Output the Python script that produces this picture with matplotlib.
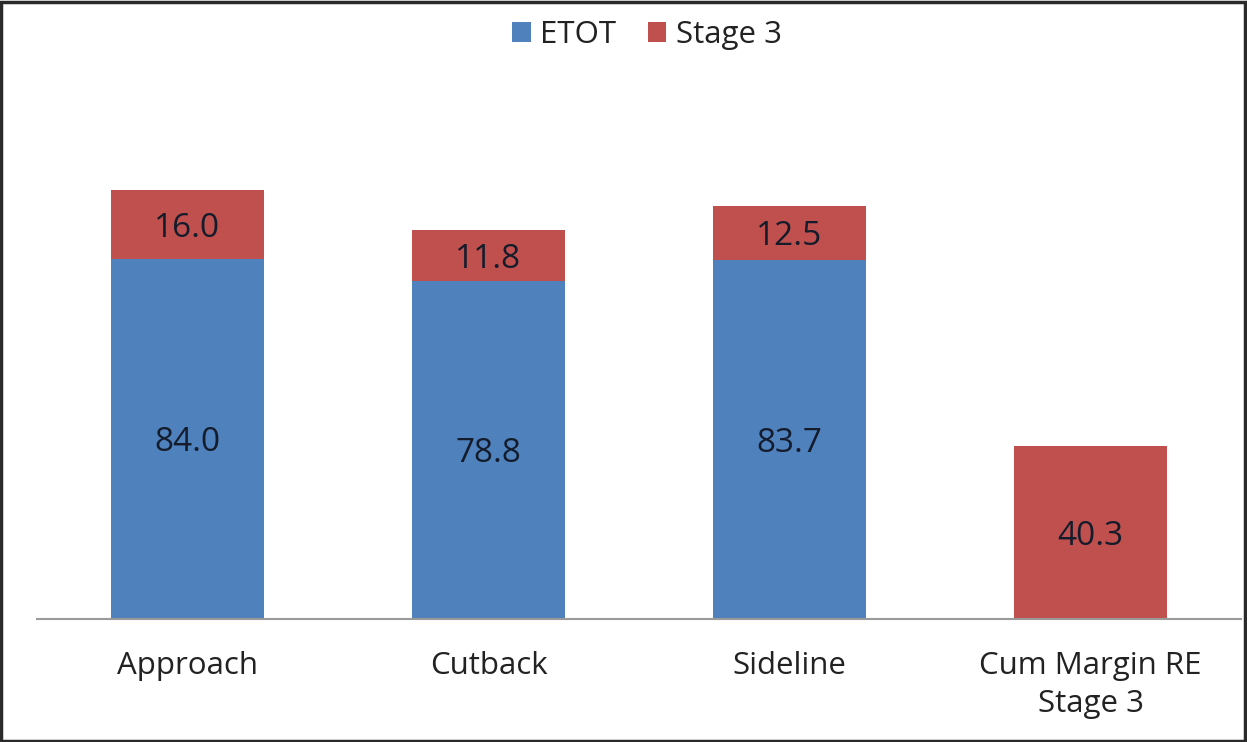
import matplotlib.pyplot as plt
from matplotlib.patches import Rectangle
import numpy as np

categories = ['Approach', 'Cutback', 'Sideline', 'Cum Margin RE\nStage 3']
etot = [84.0, 78.8, 83.7, 0.0]
stage3 = [16.0, 11.8, 12.5, 40.3]

BLUE = '#4F81BD'
RED = '#C0504D'

plt.rcParams['font.family'] = ['Open Sans', 'DejaVu Sans']

fig = plt.figure(figsize=(12.47, 7.42), dpi=100)
ax = fig.add_axes([37 / 1247, 1 - 619 / 742, 1204 / 1247, 515 / 742])

x = np.arange(len(categories))
w = 0.505
b1 = ax.bar(x, etot, w, color=BLUE, label='ETOT')
b2 = ax.bar(x, stage3, w, bottom=etot, color=RED, label='Stage 3')

# labels in the middle of each segment
for i in range(len(categories)):
    if etot[i] > 0:
        ax.text(x[i], etot[i] / 2, f'{etot[i]:.1f}', ha='center', va='center_baseline',
                fontsize=24, color='#141c2c')
    ax.text(x[i], etot[i] + stage3[i] / 2, f'{stage3[i]:.1f}', ha='center', va='center_baseline',
            fontsize=24, color='#141c2c')

ax.set_xlim(-0.5, 3.5)
ax.set_ylim(0, 120)
ax.set_xticks(x)
ax.set_xticklabels(categories, fontsize=22.5, color='#222222', linespacing=1.36)
ax.tick_params(axis='x', length=0, pad=23)
ax.set_yticks([])
for s in ['top', 'right', 'left']:
    ax.spines[s].set_visible(False)
ax.spines['bottom'].set_color('#9a9a9a')
ax.spines['bottom'].set_linewidth(1.5)

fig.legend(handles=[b1, b2], labels=['ETOT', 'Stage 3'], loc='center',
           bbox_to_anchor=(647 / 1247, 1 - 35 / 742), ncol=2, frameon=False,
           fontsize=22.5, handlelength=0.6, handleheight=0.6, handletextpad=0.3,
           columnspacing=1.0, labelcolor='#222222')

fig.patches.append(Rectangle((0.001, 0.002), 0.997, 0.995, transform=fig.transFigure,
                             fill=False, edgecolor='#2a2a2a', linewidth=2.5))

fig.savefig('out.png', dpi=100)
